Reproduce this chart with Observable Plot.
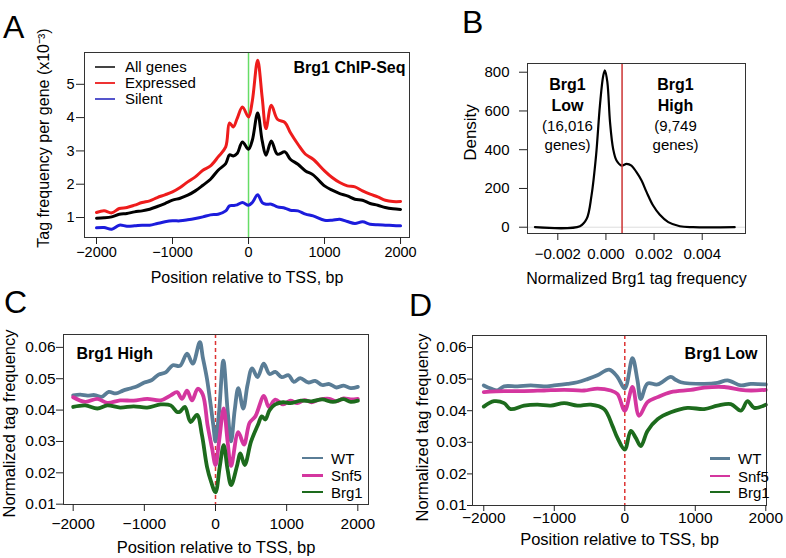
<!DOCTYPE html>
<html><head><meta charset="utf-8">
<script src="https://cdn.jsdelivr.net/npm/d3@7"></script>
<script src="https://cdn.jsdelivr.net/npm/@observablehq/plot@0.6"></script>
<style>
body{margin:0;background:#fff;font-family:"Liberation Sans",Arial,Helvetica,sans-serif;}
#fig{position:relative;width:786px;height:558px;overflow:hidden;background:#fff;color:#000}
#fig svg{position:absolute;left:0;top:0;overflow:visible}
.lbl{position:absolute;font-size:32px;line-height:1;}
.leg{position:absolute;font-size:15px;}
.leg .row{position:absolute;left:0;display:flex;align-items:center;height:16px;white-space:nowrap}
.leg .sw{display:inline-block;height:2px;}
</style></head>
<body><div id="fig"></div>
<script>
// ---------- Panel A : Brg1 ChIP-Seq profiles ----------
const posA = [-2000,-1900,-1800,-1700,-1600,-1500,-1400,-1300,-1200,-1100,-1000,-900,-800,-700,-600,-500,-400,-300,-250,-200,-150,-80,0,50,120,180,230,300,380,480,550,650,750,850,1000,1100,1200,1300,1400,1500,1600,1700,1800,1900,2000];
const allGenes = [0.98,0.99,1.02,1.1,1.12,1.17,1.2,1.25,1.33,1.42,1.52,1.58,1.67,1.8,1.97,2.15,2.42,2.62,2.88,2.85,2.92,3.27,3.05,3.32,4.14,3.3,2.87,3.3,2.9,2.97,2.75,2.6,2.4,2.28,1.95,1.82,1.72,1.65,1.55,1.52,1.42,1.37,1.3,1.26,1.24];
const expressed = [1.15,1.2,1.14,1.27,1.3,1.37,1.45,1.5,1.6,1.68,1.77,1.9,2.07,2.22,2.42,2.55,2.82,3.12,3.84,3.72,3.97,4.32,4.02,4.5,5.72,4.6,3.67,4.37,3.95,3.85,3.55,3.2,2.9,2.75,2.4,2.2,2.05,1.95,1.92,1.8,1.7,1.62,1.52,1.48,1.48];
const silent = [0.69,0.7,0.65,0.77,0.74,0.75,0.77,0.77,0.82,0.87,0.9,0.9,0.93,0.97,1.02,1.08,1.1,1.2,1.35,1.36,1.38,1.45,1.37,1.45,1.68,1.45,1.4,1.4,1.32,1.28,1.22,1.2,1.1,1.05,0.92,0.92,0.95,0.88,0.82,0.87,0.8,0.78,0.77,0.76,0.75];
const seriesA = ["All genes","Expressed","Silent"];
const colorsA = ["#000000","#ee1c1c","#1c1cdc"];
const ticksPos = [-2000, -1000, 0, 1000, 2000];
const ticksA = [1, 2, 3, 4, 5];

// ---------- Panel B : density ----------
const densX = [-0.00295,-0.00108,-0.0008,-0.0006,-0.00041,-0.00025,-0.00011,-0.00004,0.00006,0.00017,0.0003,0.00044,0.00065,0.00086,0.00106,0.00127,0.00148,0.00169,0.00196,0.00224,0.00259,0.00307,0.00362,0.00535];
const densY = [0,5,43,163,370,628,783,809,748,542,404,344,318,327,318,284,241,181,112,64,26,5,0,0];
const cutoff = 0.00067;
const ticksBx = [-0.002, 0, 0.002, 0.004];
const ticksBy = [0, 200, 400, 600, 800];

// ---------- Panel C : Brg1 High ----------
const posCwt = [-2000,-1900,-1800,-1700,-1600,-1500,-1400,-1300,-1200,-1100,-1000,-900,-800,-700,-600,-500,-400,-320,-220,-180,-120,-70,-30,0,50,110,170,219,270,320,390,450,514,590,677,760,841,930,1028,1100,1192,1300,1400,1500,1600,1700,1800,1900,2000];
const valCwt = [0.0447,0.0449,0.0446,0.0448,0.0442,0.0458,0.0453,0.0462,0.0469,0.0476,0.0488,0.0495,0.0513,0.052,0.0543,0.0541,0.058,0.0548,0.0617,0.057,0.050,0.042,0.035,0.030,0.0394,0.0558,0.040,0.030,0.040,0.047,0.0405,0.048,0.0533,0.0505,0.0548,0.0515,0.0522,0.0505,0.0511,0.049,0.0502,0.0488,0.0493,0.048,0.0483,0.0472,0.0478,0.047,0.0474];
const posCsnf = [-2000,-1830,-1660,-1520,-1340,-1150,-960,-770,-630,-540,-470,-400,-330,-250,-180,-110,-50,0,50,115,170,219,320,400,480,560,680,750,840,950,1050,1150,1250,1350,1450,1600,1700,1800,1900,2000];
const valCsnf = [0.0441,0.0426,0.0436,0.0423,0.0431,0.043,0.0436,0.0431,0.0447,0.0457,0.0436,0.0462,0.0431,0.0468,0.045,0.035,0.028,0.0225,0.030,0.0405,0.030,0.0222,0.033,0.029,0.036,0.038,0.0445,0.041,0.0433,0.0418,0.043,0.0422,0.0432,0.0425,0.0433,0.0436,0.0428,0.0437,0.0434,0.0436];
const posCbrg = [-2000,-1830,-1660,-1520,-1340,-1150,-960,-770,-630,-540,-500,-430,-350,-260,-190,-120,-60,0,60,115,170,219,300,350,410,500,600,650,700,760,840,950,1050,1200,1350,1500,1650,1800,1900,2000];
const valCbrg = [0.041,0.0415,0.0405,0.0415,0.0408,0.0412,0.0408,0.0418,0.0415,0.0394,0.0395,0.041,0.0362,0.0385,0.032,0.022,0.017,0.0138,0.022,0.0288,0.021,0.0161,0.022,0.0262,0.0225,0.030,0.0355,0.038,0.037,0.040,0.0418,0.0425,0.0422,0.043,0.0428,0.0434,0.0426,0.0435,0.0426,0.043];

// ---------- Panel D : Brg1 Low ----------
const posDwt = [-2000,-1900,-1807,-1712,-1523,-1334,-1145,-1003,-814,-672,-530,-388,-222,-104,0,109,180,227,322,464,653,720,795,1126,1315,1457,1646,1788,2000];
const valDwt = [0.048,0.047,0.0464,0.0477,0.0477,0.048,0.0477,0.048,0.0485,0.049,0.050,0.0512,0.053,0.0507,0.047,0.0566,0.0496,0.0437,0.0486,0.0483,0.0507,0.0498,0.049,0.0485,0.0488,0.0496,0.048,0.0485,0.0483];
const posDsnf = [-2000,-1712,-1429,-1145,-861,-577,-388,-199,-104,0,109,203,322,464,653,937,1126,1410,1646,1788,2000];
const valDsnf = [0.0459,0.0462,0.0462,0.0464,0.0466,0.0464,0.047,0.0464,0.0453,0.040,0.0475,0.0384,0.0427,0.0443,0.0459,0.0466,0.0473,0.0475,0.0466,0.0464,0.0466];
const posDbrg = [-2000,-1854,-1712,-1618,-1429,-1239,-1050,-861,-672,-482,-293,-175,-104,0,85,156,227,322,464,653,889,1126,1315,1504,1646,1741,1835,2000];
const valDbrg = [0.0413,0.043,0.0424,0.0405,0.0416,0.0419,0.0416,0.0424,0.0416,0.0419,0.0405,0.0352,0.0314,0.0277,0.0336,0.0314,0.0288,0.0336,0.0373,0.0395,0.0409,0.0405,0.0416,0.0421,0.040,0.043,0.0409,0.0419];
const seriesCD = ["WT","Snf5","Brg1"];
const colorsCD = ["#5a7d96","#d4369f","#1d6b1d"];
const ticksCD = [0.01, 0.02, 0.03, 0.04, 0.05, 0.06];

// ---------- helpers ----------
const W = 786, H = 558;
const FONT = "'Liberation Sans', Arial, Helvetica, sans-serif";
const fig = document.getElementById("fig");
const zip = (xs, ys, s) => xs.map((x, i) => ({x, y: ys[i], s}));
const blank = () => "";

function panel(frame, xDomain, yDomain, marks) {
  const [l, t, r, b] = frame;
  return Plot.plot({
    width: W, height: H,
    marginLeft: l, marginTop: t, marginRight: W - r, marginBottom: H - b,
    x: {domain: xDomain}, y: {domain: yDomain},
    style: {fontFamily: FONT, background: "transparent", overflow: "visible", color: "#000"},
    marks
  });
}
function title(text, o) {
  return Plot.text([text], {text: d => d, textAnchor: "middle", lineAnchor: "middle", fill: "#000", ...o});
}
// axis: tick marks from Plot's axis mark, tick labels as text marks on the scale
function axes({xt, yt, xfmt, yfmt, xSize, ySize, xDy, yDx, fs}) {
  return [
    Plot.axisX({ticks: xt, tickFormat: blank, tickSize: xSize, label: null, stroke: "#222"}),
    Plot.axisY({ticks: yt, tickFormat: blank, tickSize: ySize, label: null, stroke: "#222"}),
    Plot.text(xt, {x: d => d, text: xfmt, frameAnchor: "bottom", dy: xDy, lineAnchor: "middle", textAnchor: "middle", fontSize: fs, fill: "#000"}),
    Plot.text(yt, {y: d => d, text: yfmt, frameAnchor: "left", dx: yDx, lineAnchor: "middle", textAnchor: "end", fontSize: fs, fill: "#000"})
  ];
}

// Panel A
const dataA = [...zip(posA, allGenes, seriesA[0]), ...zip(posA, expressed, seriesA[1]), ...zip(posA, silent, seriesA[2])];
fig.append(panel([84, 52, 409, 237], [-2158, 2118], [0.4, 5.955], [
  Plot.ruleX([0], {stroke: "#66dd66", strokeWidth: 1.5}),
  ...seriesA.map((s, i) => Plot.line(dataA.filter(d => d.s === s), {x: "x", y: "y", stroke: colorsA[i], strokeWidth: 3, curve: "catmull-rom"})),
  Plot.frame({stroke: "#333"}),
  ...axes({xt: ticksPos, yt: ticksA, xfmt: d3.format("d"), yfmt: d3.format("d"), xSize: 7, ySize: 8, xDy: 15, yDx: -10, fs: 14.5}),
  title("Position relative to TSS, bp", {frameAnchor: "bottom", dy: 40, fontSize: 16}),
  title("Tag frequency per gene (x10\u207B\u00B3)", {frameAnchor: "left", rotate: -90, dx: -41, dy: -7, fontSize: 16}),
  Plot.text(["Brg1 ChIP-Seq"], {text: d => d, frameAnchor: "top-right", textAnchor: "end", lineAnchor: "middle", dx: -4, dy: 15, fontSize: 16, fontWeight: "bold"})
]));

// Panel B
const dataB = zip(densX, densY, "density");
fig.append(panel([527, 63, 745, 233], [-0.003259, 0.005799], [-32.5, 845], [
  Plot.ruleY([0], {stroke: "#dddddd", strokeWidth: 1}),
  Plot.line(dataB, {x: "x", y: "y", stroke: "#000", strokeWidth: 2.2, curve: "catmull-rom"}),
  Plot.ruleX([cutoff], {stroke: "#cc3333", strokeWidth: 1.5}),
  Plot.frame({stroke: "#333"}),
  ...axes({xt: ticksBx, yt: ticksBy, xfmt: d3.format(".3f"), yfmt: d3.format("d"), xSize: 7, ySize: 8, xDy: 21, yDx: -18, fs: 15}),
  title("Normalized Brg1 tag frequency", {frameAnchor: "bottom", dy: 45, fontSize: 16}),
  title("Density", {frameAnchor: "left", rotate: -90, dx: -57, dy: -16, fontSize: 17}),
  Plot.text(["Brg1\nLow"], {text: d => d, frameAnchor: "top-left", textAnchor: "middle", lineAnchor: "middle", dx: 40, dy: 30.7, fontSize: 16, fontWeight: "bold", lineHeight: 1.29}),
  Plot.text(["(16,016\ngenes)"], {text: d => d, frameAnchor: "top-left", textAnchor: "middle", lineAnchor: "middle", dx: 40, dy: 70.5, fontSize: 15, lineHeight: 1.27}),
  Plot.text(["Brg1\nHigh"], {text: d => d, frameAnchor: "top-left", textAnchor: "middle", lineAnchor: "middle", dx: 148, dy: 30.7, fontSize: 16, fontWeight: "bold", lineHeight: 1.29}),
  Plot.text(["(9,749\ngenes)"], {text: d => d, frameAnchor: "top-left", textAnchor: "middle", lineAnchor: "middle", dx: 148, dy: 70.5, fontSize: 15, lineHeight: 1.27})
]));

// Panel C and D
function cdPanel(frame, xDom, yDom, sets, label, labelOpts, ax, yTitleOpts, xTitleDy) {
  const data = sets.flatMap(([p, v], i) => zip(p, v, seriesCD[i]));
  return panel(frame, xDom, yDom, [
    Plot.ruleX([0], {stroke: "#dd3333", strokeWidth: 1.5, strokeDasharray: "4,3"}),
    ...seriesCD.map((s, i) => Plot.line(data.filter(d => d.s === s), {x: "x", y: "y", stroke: colorsCD[i], strokeWidth: 3.8, curve: "catmull-rom"})),
    Plot.frame({stroke: "#333"}),
    ...axes({xt: ticksPos, yt: ticksCD, xfmt: d3.format("d"), yfmt: d3.format(".2f"), fs: 15.5, ...ax}),
    title("Position relative to TSS, bp", {frameAnchor: "bottom", dy: xTitleDy, fontSize: 16.5}),
    title("Normalized tag frequency", {frameAnchor: "left", rotate: -90, fontSize: 16.5, ...yTitleOpts}),
    Plot.text([label], {text: d => d, lineAnchor: "middle", fontSize: 16, fontWeight: "bold", ...labelOpts})
  ]);
}
fig.append(cdPanel([63, 334, 368, 504], [-2136, 2150], [0.0099, 0.0641],
  [[posCwt, valCwt], [posCsnf, valCsnf], [posCbrg, valCbrg]],
  "Brg1 High", {frameAnchor: "top-left", textAnchor: "start", dx: 13, dy: 19},
  {xSize: 7, ySize: 7, xDy: 20, yDx: -8}, {dx: -54, dy: 4}, 43.5));
fig.append(cdPanel([472, 335, 766, 505], [-2160, 2010], [0.01, 0.0638],
  [[posDwt, valDwt], [posDsnf, valDsnf], [posDbrg, valDbrg]],
  "Brg1 Low", {frameAnchor: "top-right", textAnchor: "end", dx: -9, dy: 18},
  {xSize: 6, ySize: 5, xDy: 13, yDx: -6}, {dx: -50, dy: 7}, 34));

// Panel letters
[["A", 3, 11], ["B", 462, 6], ["C", 4, 286], ["D", 409, 289]].forEach(([t, x, y]) => {
  const d = document.createElement("div");
  d.className = "lbl"; d.textContent = t;
  d.style.left = x + "px"; d.style.top = y + "px";
  fig.append(d);
});

// Legends
function legend(names, colors, x0, swW, gap, rows, sw) {
  const box = document.createElement("div");
  box.className = "leg"; box.style.left = x0 + "px"; box.style.top = "0px";
  names.forEach((n, i) => {
    const r = document.createElement("div");
    r.className = "row"; r.style.top = (rows[i] - 8) + "px";
    const s = document.createElement("span");
    s.className = "sw"; s.style.width = swW + "px"; s.style.height = sw + "px";
    s.style.background = colors[i]; s.style.marginRight = gap + "px";
    r.append(s, document.createTextNode(n));
    box.append(r);
  });
  fig.append(box);
}
legend(seriesA, ["#444", "#e33", "#55c"], 95, 20, 10, [66.7, 82.7, 98.7], 2);
legend(seriesCD, colorsCD, 302, 21, 8, [458, 475.5, 492], 2.5);
legend(seriesCD, colorsCD, 710, 20, 8, [458.5, 476, 492], 2.5);
</script></body></html>
